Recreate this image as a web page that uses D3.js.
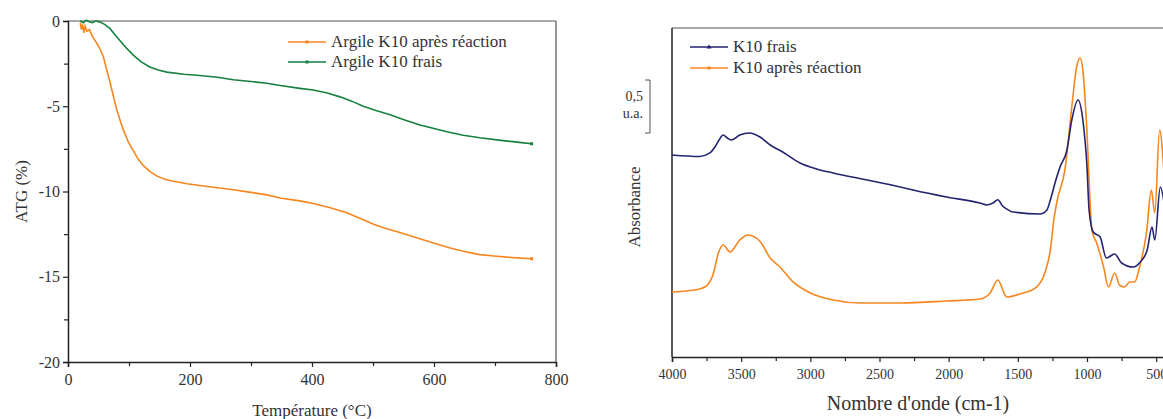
<!DOCTYPE html>
<html><head><meta charset="utf-8">
<script src="https://cdn.jsdelivr.net/npm/d3@7"></script>
<style>body{margin:0;background:#fff}svg{display:block}svg text{font-family:"Liberation Serif","Times New Roman",serif !important}</style>
</head><body>
<script>
// ---- Left chart (ATG) data ----
const atgTicksX = [0, 200, 400, 600, 800];
const atgTicksY = [0, -5, -10, -15, -20];
const atgApres = [[20,-0.1],[22,-0.5],[24,-0.2],[26,-0.7],[28,-0.3],[31,-0.6],[35,-0.5],[40,-0.9],[47,-1.3],[52,-1.6],[58,-2.1],[63,-2.8],[69,-3.6],[75,-4.5],[80,-5.2],[86,-5.9],[91,-6.4],[99,-7.1],[107,-7.6],[115,-8.1],[124,-8.5],[135,-8.85],[146,-9.1],[160,-9.3],[173,-9.4],[195,-9.55],[216,-9.65],[245,-9.78],[271,-9.9],[300,-10.05],[326,-10.2],[350,-10.4],[380,-10.55],[402,-10.7],[430,-10.95],[457,-11.25],[480,-11.6],[500,-11.9],[520,-12.15],[544,-12.4],[570,-12.7],[598,-13.0],[625,-13.3],[648,-13.5],[675,-13.7],[703,-13.8],[730,-13.88],[760,-13.94]];
const atgFrais = [[20,0.0],[25,-0.1],[30,0.05],[35,-0.05],[40,-0.1],[45,0.0],[52,-0.05],[60,-0.2],[69,-0.45],[77,-0.8],[85,-1.15],[96,-1.6],[107,-2.0],[120,-2.4],[134,-2.7],[148,-2.88],[162,-3.0],[190,-3.12],[216,-3.2],[245,-3.3],[271,-3.45],[300,-3.55],[326,-3.65],[348,-3.78],[380,-3.95],[402,-4.05],[425,-4.22],[446,-4.45],[465,-4.7],[484,-5.0],[505,-5.25],[528,-5.5],[552,-5.8],[577,-6.1],[600,-6.3],[621,-6.5],[648,-6.7],[675,-6.85],[710,-7.0],[740,-7.12],[760,-7.2]];
const atgNames = ["Argile K10 après réaction", "Argile K10 frais"];

// ---- Right chart (IR) data ----
const irTicksX = [4000, 3500, 3000, 2500, 2000, 1500, 1000, 500];
const irFrais = [[4000,1.906],[3800,1.892],[3726,1.925],[3690,1.981],[3660,2.047],[3630,2.094],[3600,2.066],[3570,2.047],[3510,2.094],[3440,2.113],[3364,2.075],[3290,2.0],[3200,1.934],[3075,1.83],[2955,1.774],[2835,1.736],[2590,1.67],[2350,1.604],[2257,1.575],[2015,1.509],[1775,1.453],[1725,1.434],[1680,1.453],[1645,1.483],[1610,1.425],[1580,1.396],[1535,1.368],[1340,1.349],[1290,1.387],[1265,1.481],[1225,1.67],[1195,1.792],[1145,1.953],[1110,2.236],[1065,2.425],[1030,2.236],[1000,1.792],[985,1.387],[955,1.179],[905,1.132],[860,0.934],[800,0.972],[750,0.887],[665,0.849],[615,0.896],[565,1.009],[530,1.226],[510,1.104],[470,1.604],[440,1.434]];
const irApres = [[4000,0.613],[3800,0.642],[3750,0.67],[3700,0.792],[3665,0.981],[3630,1.057],[3580,0.991],[3510,1.104],[3450,1.151],[3360,1.085],[3290,0.934],[3220,0.849],[3125,0.708],[3000,0.604],[2835,0.538],[2640,0.509],[2350,0.509],[2015,0.528],[1775,0.547],[1700,0.604],[1645,0.726],[1580,0.566],[1485,0.594],[1365,0.66],[1305,0.792],[1265,1.009],[1240,1.292],[1215,1.481],[1160,1.764],[1110,2.358],[1075,2.736],[1050,2.821],[1030,2.708],[1000,2.113],[975,1.387],[965,1.198],[930,1.075],[880,0.849],[845,0.66],[800,0.792],[765,0.679],[730,0.66],[690,0.708],[655,0.708],[620,0.849],[570,1.17],[535,1.575],[510,1.358],[475,2.142],[445,1.764]];
const irNames = ["K10 frais", "K10 après réaction"];

const orange = "#f7861f", green = "#15803f", navy = "#23236f", axisCol = "#222", txtCol = "#333";
const SERIF = '"Liberation Serif","Times New Roman",serif';

const svg = d3.select("body").append("svg").attr("width", 1163).attr("height", 419);

// ===== Left chart =====
{
  const L = 68, R = 556, T = 21, B = 362;
  const x = d3.scaleLinear().domain([0, 800]).range([L, R]);
  const y = d3.scaleLinear().domain([-20, 0]).range([B, T]);
  const g = svg.append("g");
  g.append("line").attr("x1", L).attr("x2", R).attr("y1", T).attr("y2", T).attr("stroke", "#555").attr("stroke-width", 1.2);
  g.append("line").attr("x1", R).attr("x2", R).attr("y1", T).attr("y2", B).attr("stroke", "#555").attr("stroke-width", 1.2);
  const xa = g.append("g").attr("transform", `translate(0,${B})`)
    .call(d3.axisBottom(x).tickValues(d3.range(0, 801, 100)).tickSize(5).tickFormat(d => d % 200 === 0 ? d : ""));
  xa.selectAll(".tick").filter(d => d % 200 !== 0).select("line").attr("y2", 4);
  const ya = g.append("g").attr("transform", `translate(${L},0)`)
    .call(d3.axisLeft(y).tickValues(d3.range(-20, 0.1, 2.5)).tickSize(5).tickFormat(d => d % 5 === 0 ? d : ""));
  ya.selectAll(".tick").filter(d => d % 5 !== 0).select("line").attr("x2", -4);
  [xa, ya].forEach(a => {
    a.attr("font-family", SERIF).attr("font-size", 16);
    a.select(".domain").attr("stroke", axisCol).attr("stroke-width", 1.5);
    a.selectAll(".tick line").attr("stroke", axisCol).attr("stroke-width", 1.2);
    a.selectAll("text").attr("fill", txtCol);
  });
  xa.selectAll("text").attr("dy", "0.95em");
  const line = d3.line().x(d => x(d[0])).y(d => y(d[1])).curve(d3.curveLinear);
  [[atgFrais, green], [atgApres, orange]].forEach(([data, c]) => {
    g.append("path").datum(data).attr("d", line).attr("fill", "none").attr("stroke", c).attr("stroke-width", 1.6);
    const last = data[data.length - 1];
    g.append("rect").attr("x", x(last[0]) - 1.5).attr("y", y(last[1]) - 1.5).attr("width", 3).attr("height", 3).attr("fill", c);
  });
  g.append("text").attr("transform", `translate(27,${(T + B) / 2}) rotate(-90)`).attr("text-anchor", "middle")
    .attr("font-size", 17).attr("fill", txtCol).text("ATG (%)");
  g.append("text").attr("x", 312).attr("y", 416).attr("text-anchor", "middle")
    .attr("font-size", 17).attr("fill", txtCol).text("Température (°C)");
  [[atgNames[0], orange, 42], [atgNames[1], green, 62]].forEach(([n, c, yy]) => {
    g.append("line").attr("x1", 288).attr("x2", 326).attr("y1", yy).attr("y2", yy).attr("stroke", c).attr("stroke-width", 1.6);
    g.append("rect").attr("x", 305.5).attr("y", yy - 1.5).attr("width", 3).attr("height", 3).attr("fill", c);
    g.append("text").attr("x", 331).attr("y", yy + 5).attr("font-size", 17).attr("fill", txtCol).text(n);
  });
}

// ===== Right chart =====
{
  const L = 672, R = 1170, T = 28, B = 357;
  const x = d3.scaleLinear().domain([4000, 400]).range([L, R]);
  const y = d3.scaleLinear().domain([0, (B - T) / 106]).range([B, T]);
  const g = svg.append("g");
  svg.append("defs").append("clipPath").attr("id", "irclip").append("rect")
    .attr("x", L).attr("y", T).attr("width", R - L).attr("height", B - T);
  g.append("line").attr("x1", L).attr("x2", 1163).attr("y1", T).attr("y2", T).attr("stroke", "#555").attr("stroke-width", 1.2);
  const xa = g.append("g").attr("transform", `translate(0,${B})`)
    .call(d3.axisBottom(x).tickValues(d3.range(4000, 399, -250)).tickSize(5).tickFormat(d => d % 500 === 0 ? d : ""));
  xa.attr("font-family", SERIF).attr("font-size", 14);
  xa.selectAll(".tick").filter(d => d % 500 !== 0).select("line").attr("y2", 4);
  xa.select(".domain").attr("stroke", axisCol).attr("stroke-width", 1.5);
  xa.selectAll(".tick line").attr("stroke", axisCol).attr("stroke-width", 1.2);
  xa.selectAll("text").attr("fill", txtCol).attr("dy", "1.0em");
  g.append("line").attr("x1", L).attr("x2", L).attr("y1", T).attr("y2", B).attr("stroke", axisCol).attr("stroke-width", 1.5);
  const line = d3.line().x(d => x(d[0])).y(d => y(d[1])).curve(d3.curveMonotoneX);
  const pg = g.append("g").attr("clip-path", "url(#irclip)");
  [[irApres, orange], [irFrais, navy]].forEach(([data, c]) => {
    pg.append("path").datum(data).attr("d", line).attr("fill", "none").attr("stroke", c).attr("stroke-width", 1.6);
  });
  g.append("text").attr("transform", `translate(640,207) rotate(-90)`).attr("text-anchor", "middle")
    .attr("font-size", 17).attr("fill", txtCol).text("Absorbance");
  g.append("text").attr("x", 918).attr("y", 410).attr("text-anchor", "middle")
    .attr("font-size", 20).attr("fill", txtCol).text("Nombre d'onde (cm-1)");
  const sbTop = 80, sbBot = sbTop + 0.5 * 106;
  g.append("path").attr("d", `M645,${sbTop}H650V${sbBot}H645`).attr("fill", "none").attr("stroke", "#555").attr("stroke-width", 1);
  g.append("text").attr("x", 643).attr("y", 101).attr("text-anchor", "end").attr("font-size", 14).attr("fill", txtCol).text("0,5");
  g.append("text").attr("x", 643).attr("y", 118).attr("text-anchor", "end").attr("font-size", 14).attr("fill", txtCol).text("u.a.");
  [[irNames[0], navy, 47, "tri"], [irNames[1], orange, 68, "dot"]].forEach(([n, c, yy, m]) => {
    g.append("line").attr("x1", 690).attr("x2", 728).attr("y1", yy).attr("y2", yy).attr("stroke", c).attr("stroke-width", 1.6);
    if (m === "tri") g.append("path").attr("d", `M709,${yy - 2.5}L711.5,${yy + 1.5}H706.5Z`).attr("fill", c);
    else g.append("circle").attr("cx", 709).attr("cy", yy).attr("r", 1.8).attr("fill", c);
    g.append("text").attr("x", 733).attr("y", yy + 5).attr("font-size", 17).attr("fill", txtCol).text(n);
  });
}
</script>
</body></html>
